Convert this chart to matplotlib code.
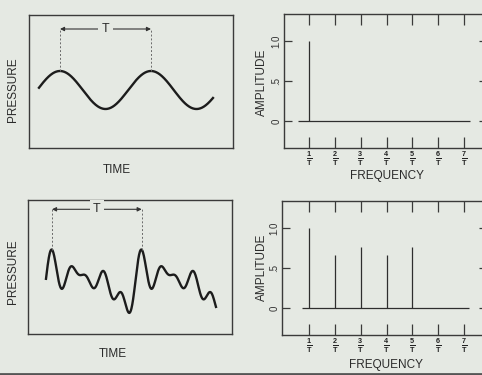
import numpy as np
import matplotlib
matplotlib.use("Agg")
import matplotlib.pyplot as plt
from matplotlib.lines import Line2D

# harmonic content of the two sounds (amplitude per harmonic, phase in rad)
harmonics = [1, 2, 3, 4, 5]
pure_amps = [1.0]
pure_phases = [0.0]
complex_amps = [1.0, 0.67, 0.77, 0.67, 0.77]
complex_phases = [4.85, 5.76, 0.52, 6.18, 0.49]

freq_ticks = [1, 2, 3, 4, 5, 6, 7]
freq_labels = [r"$\mathbf{\frac{%d}{T}}$" % n for n in freq_ticks]
amp_ticks = [0, 0.5, 1.0]
amp_labels = ["0", ".5", "1.0"]

pure_span = (-0.231, 1.681)
complex_span = (-0.067, 1.828)

BG = "#e5e9e3"
INK = "#1c1c1c"
FRAME = "#3a3a3a"
W, H = 482, 375

plt.rcParams["font.family"] = ["Liberation Sans", "DejaVu Sans"]
plt.rcParams["mathtext.fontset"] = "custom"
plt.rcParams["mathtext.rm"] = "Liberation Sans"
plt.rcParams["mathtext.bf"] = "Liberation Sans:bold"

fig = plt.figure(figsize=(W / 100, H / 100), dpi=100, facecolor=BG)


def box(x0, y0, x1, y1):
    # pixel box -> figure fraction axes
    ax = fig.add_axes([x0 / W, 1 - y1 / H, (x1 - x0) / W, (y1 - y0) / H])
    ax.set_facecolor(BG)
    for s in ax.spines.values():
        s.set_color(FRAME)
        s.set_linewidth(1.0)
    return ax


def label(x, y, s, rot=0, size=8.5):
    fig.text(x / W, 1 - y / H, s, rotation=rot, ha="center", va="center",
             fontsize=size, color="#2b2b2b")


def synth(t, amps, phases):
    out = np.zeros_like(t)
    for n, a, p in zip(harmonics, amps, phases):
        out += a * np.cos(2 * np.pi * n * t + p)
    return out


def wave_panel(ax, amps, phases, span, peak, arrow_y):
    t = np.linspace(span[0], span[1], 600)
    ax.plot(t, synth(t, amps, phases), color=INK, lw=1.7)
    for x in (0, 1):
        ax.plot([x, x], [peak, arrow_y], color="#6a6a6a", lw=0.7, ls=(0, (2, 2)))
    ax.annotate("", xy=(1, arrow_y), xytext=(0, arrow_y),
                arrowprops=dict(arrowstyle="<|-|>", mutation_scale=6, lw=0.8,
                                color="#333333", shrinkA=0, shrinkB=0))
    ax.text(0.5, arrow_y, "T", ha="center", va="center", fontsize=9, color="#2b2b2b",
            bbox=dict(facecolor=BG, edgecolor="none", pad=2.5))
    ax.set_xticks([])
    ax.set_yticks([])


def spectrum_panel(ax, amps, base):
    ax.vlines(harmonics[:len(amps)], 0, amps, color="#2e2e2e", lw=0.9)
    ax.hlines(0, base[0], base[1], color="#2e2e2e", lw=0.9)
    ax.set_xlim(0.032 if base[0] < 0.6 else -0.045, 7.89)
    ax.set_ylim(-0.335, 1.34)
    ax.set_xticks(freq_ticks)
    ax.set_xticklabels(freq_labels, fontsize=7.5, color="#222222")
    ax.set_yticks(amp_ticks)
    ax.set_yticklabels(amp_labels, rotation=90, va="center", fontsize=7, color="#333333")
    ax.tick_params(axis="x", which="both", direction="in", length=8, width=0.9,
                   color=FRAME, top=True, bottom=True, pad=1)
    ax.tick_params(axis="y", which="both", direction="in", length=6, width=0.9,
                   color=FRAME, left=True, right=True, pad=2)


# pure tone
ax1 = box(29, 15, 233, 148)
ax1.set_xlim((29 - 60) / 91, (233 - 60) / 91)
ax1.set_ylim(-(148 - 90) / 19, (90 - 15) / 19)
wave_panel(ax1, pure_amps, pure_phases, pure_span, 1.0, (90 - 29) / 19)
label(13, 90, "PRESSURE", rot=90)
label(117, 170, "TIME")

ax2 = box(284, 14, 487, 148)
spectrum_panel(ax2, pure_amps, (0.574, 7.23))
label(261.5, 82, "AMPLITUDE", rot=90)
label(387, 176, "FREQUENCY")

# complex tone
ax3 = box(28, 200, 232, 334)
ax3.set_xlim((28 - 52) / 89.7, (232 - 52) / 89.7)
ax3.set_ylim(-(334 - 281.7) / 11.72, (281.7 - 200) / 11.72)
peak3 = synth(np.array([0.0]), complex_amps, complex_phases)[0]
wave_panel(ax3, complex_amps, complex_phases, complex_span, peak3, (281.7 - 209.3) / 11.72)
label(13, 272, "PRESSURE", rot=90)
label(113, 354, "TIME")

ax4 = box(282, 201, 487, 335)
spectrum_panel(ax4, complex_amps, (0.73, 7.19))
label(262, 267, "AMPLITUDE", rot=90)
label(386, 365, "FREQUENCY")

fig.add_artist(Line2D([0, 1], [1.5 / H, 1.5 / H], transform=fig.transFigure,
                      color="#555555", lw=2))

fig.savefig("out.png", dpi=100, facecolor=BG)
